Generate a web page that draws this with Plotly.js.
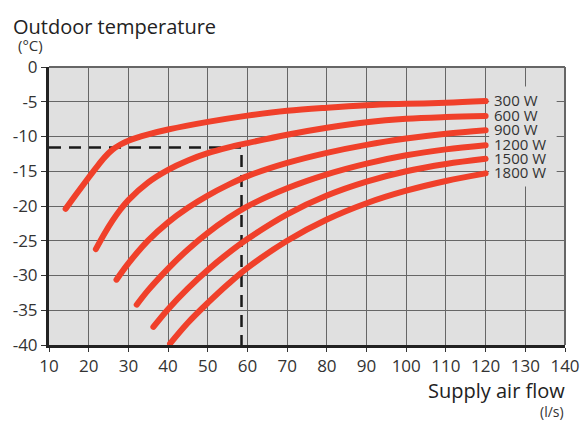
<!DOCTYPE html>
<html>
<head>
<meta charset="utf-8">
<script src="https://cdn.plot.ly/plotly-3.0.1.min.js"></script>
<style>
  html, body { margin: 0; padding: 0; background: #ffffff; }
  #chart { width: 581px; height: 421px; }
  .scatterlayer .trace:nth-child(n+2) .js-line { stroke-linecap: round; }
</style>
</head>
<body>
<div id="chart"></div>
<script>
// Series names (heater power)
const seriesNames = ['300 W', '600 W', '900 W', '1200 W', '1500 W', '1800 W'];

// Supply air flow (l/s) and outdoor temperature (°C) for each curve
const x300  = [14.2, 17, 20, 22, 24, 26, 28, 30, 35, 40, 50, 60, 70, 80, 90, 100, 110, 120];
const y300  = [-20.4, -18.2, -15.9, -14.4, -13.0, -11.9, -11.15, -10.6, -9.7, -9.0, -7.9, -7.0, -6.3, -5.85, -5.5, -5.3, -5.15, -4.9];

const x600  = [21.8, 24, 26, 28, 30, 35, 40, 45, 50, 55, 60, 70, 80, 90, 100, 110, 120];
const y600  = [-26.2, -23.95, -22.1, -20.5, -19.15, -16.6, -14.8, -13.45, -12.4, -11.6, -10.95, -9.75, -8.75, -7.95, -7.45, -7.2, -7.05];

const x900  = [27, 30, 35, 40, 45, 50, 55, 60, 70, 80, 90, 100, 110, 120];
const y900  = [-30.6, -28.25, -24.95, -22.35, -20.25, -18.5, -17.0, -15.7, -13.8, -12.35, -11.2, -10.3, -9.6, -9.1];

const x1200 = [32.1, 35, 40, 45, 50, 55, 60, 70, 80, 90, 100, 110, 120];
const y1200 = [-34.2, -32.1, -29.0, -26.25, -23.85, -21.8, -20.05, -17.45, -15.45, -13.9, -12.7, -11.85, -11.25];

const x1500 = [36.3, 40, 45, 50, 55, 60, 70, 80, 90, 100, 110, 120];
const y1500 = [-37.4, -34.85, -31.85, -29.2, -26.85, -24.75, -21.2, -18.5, -16.5, -15.0, -13.95, -13.2];

const x1800 = [40.5, 45, 50, 55, 60, 70, 80, 90, 100, 110, 120];
const y1800 = [-39.8, -36.8, -33.95, -31.3, -28.9, -25.0, -21.95, -19.6, -17.8, -16.4, -15.3];

// Reading example (dashed guide)
const guideX = [10, 58.5, 58.5];
const guideY = [-11.6, -11.6, -40];

// Axis ticks
const xTicks = [10, 20, 30, 40, 50, 60, 70, 80, 90, 100, 110, 120, 130, 140];
const yTicks = [0, -5, -10, -15, -20, -25, -30, -35, -40];

const xs = [x300, x600, x900, x1200, x1500, x1800];
const ys = [y300, y600, y900, y1200, y1500, y1800];

const red = '#f0402a';
const font = '"Open Sans", "Noto Sans", sans-serif';

const traces = [{
  x: guideX, y: guideY, mode: 'lines', hoverinfo: 'skip',
  line: { color: '#1a1a1a', width: 2.5, dash: '12px,8px' }
}];
xs.forEach((xv, i) => {
  traces.push({
    x: xv, y: ys[i], mode: 'lines', name: seriesNames[i],
    line: { color: red, width: 6, shape: 'spline', smoothing: 1 }
  });
});

const annotations = seriesNames.map((n, i) => ({
  x: xs[i][xs[i].length - 1], y: ys[i][ys[i].length - 1],
  xref: 'x', yref: 'y', text: n, showarrow: false,
  xanchor: 'left', yanchor: 'middle', xshift: 6, yshift: 1,
  font: { family: font, size: 15, color: '#333333' }
}));

annotations.push(
  { text: 'Outdoor temperature', xref: 'paper', yref: 'paper', x: -0.074, y: 1.147,
    xanchor: 'left', yanchor: 'middle', showarrow: false,
    font: { family: font, size: 20, color: '#222222' } },
  { text: '(°C)', xref: 'paper', yref: 'paper', x: -0.064, y: 1.078,
    xanchor: 'left', yanchor: 'middle', showarrow: false,
    font: { family: font, size: 15, color: '#333333' } },
  { text: 'Supply air flow', xref: 'paper', yref: 'paper', x: 1.004, y: -0.164,
    xanchor: 'right', yanchor: 'middle', showarrow: false,
    font: { family: font, size: 20, color: '#222222' } },
  { text: '(l/s)', xref: 'paper', yref: 'paper', x: 1.002, y: -0.24,
    xanchor: 'right', yanchor: 'middle', showarrow: false,
    font: { family: font, size: 14, color: '#333333' } }
);

const layout = {
  width: 581, height: 421,
  margin: { l: 49, r: 16, t: 67, b: 76, pad: 0 },
  paper_bgcolor: '#ffffff',
  plot_bgcolor: '#e0e0e0',
  showlegend: false,
  font: { family: font, color: '#333333' },
  xaxis: {
    range: [10, 140], tickvals: xTicks, ticktext: xTicks.map(String),
    showgrid: true, gridcolor: '#666666', gridwidth: 1, zeroline: false,
    showline: true, linecolor: '#222222', linewidth: 3,
    ticks: 'outside', ticklen: 4, tickwidth: 1, tickcolor: '#333333',
    tickfont: { family: font, size: 17, color: '#333333' }
  },
  yaxis: {
    range: [-40, 0], tickvals: yTicks, ticktext: yTicks.map(String),
    showgrid: true, gridcolor: '#666666', gridwidth: 1, zeroline: false,
    showline: true, linecolor: '#222222', linewidth: 3,
    ticks: 'outside', ticklen: 5, tickwidth: 1, tickcolor: '#333333',
    tickfont: { family: font, size: 17, color: '#333333' }
  },
  shapes: [
    { type: 'rect', xref: 'x', yref: 'y', x0: 120.9, x1: 137.9, y0: -17.2, y1: -2.8,
      fillcolor: '#e0e0e0', line: { width: 0 }, layer: 'between' },
    { type: 'line', xref: 'paper', yref: 'paper', x0: 0, x1: 1, y0: 1, y1: 1,
      line: { color: '#666666', width: 2 } },
    { type: 'line', xref: 'paper', yref: 'paper', x0: 1, x1: 1, y0: 0, y1: 1,
      line: { color: '#666666', width: 2 } }
  ],
  annotations: annotations
};

Plotly.newPlot('chart', traces, layout, { staticPlot: true, displayModeBar: false });
</script>
</body>
</html>
